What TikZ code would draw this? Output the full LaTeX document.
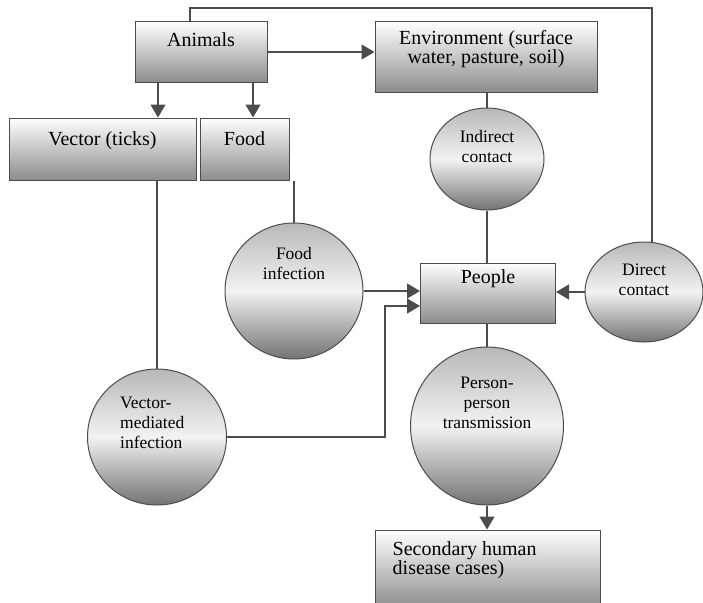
\documentclass[tikz,border=0pt]{standalone}
\usepackage{fontspec}
\setmainfont{Liberation Serif}
\usetikzlibrary{arrows.meta,shapes.geometric}

\begin{document}
\begin{tikzpicture}[x=1pt, y=-1pt,
    box/.style={draw=black!70, line width=1pt, top color=white, bottom color=black!45, inner sep=0pt},
    ball/.style={ellipse, draw=black!70, line width=1pt, top color=black!28, bottom color=black!55, middle color=black!5, inner sep=0pt},
    lbl/.style={anchor=north, inner sep=0pt, align=center, font=\fontsize{20}{18}\selectfont},
    blbl/.style={anchor=north, inner sep=0pt, align=center, font=\fontsize{17.5}{20}\selectfont},
    line/.style={draw=black!70, line width=1.3pt},
    arr/.style={line, -{Triangle[length=13pt,width=15pt]}}]

    \useasboundingbox (0,0) rectangle (703,602);

    % boxes
    \node [box, minimum width=132pt, minimum height=60pt, label={[lbl, yshift=-11pt]north:Animals}] (ani) at (201, 52) {};
    \node [box, minimum width=222pt, minimum height=70pt, label={[lbl, yshift=-9pt]north:Environment (surface\\water, pasture, soil)}] (env) at (486, 57) {};
    \node [box, minimum width=187pt, minimum height=62pt, label={[lbl, yshift=-14pt]north:Vector (ticks)}] (vec) at (102.5, 149) {};
    \node [box, minimum width=89pt, minimum height=62pt, label={[lbl, yshift=-14pt]north:Food}] (food) at (244.5, 149) {};
    \node [box, minimum width=135pt, minimum height=60pt, label={[lbl, yshift=-7pt]north:People}] (peo) at (488, 293) {};
    \node [box, minimum width=225pt, minimum height=78pt, label={[lbl, anchor=north west, align=left, xshift=18pt, yshift=-12pt]north west:Secondary human\\disease cases)}] (sec) at (487.5, 569) {};

    % circles
    \node [ball, minimum width=114pt, minimum height=102pt, label={[blbl, yshift=-23pt]north:Indirect\\contact}] (ind) at (487, 159) {};
    \node [ball, minimum width=138pt, minimum height=136pt, label={[blbl, yshift=-25pt]north:Food\\infection}] (fin) at (294, 291) {};
    \node [ball, minimum width=118pt, minimum height=100pt, label={[blbl, yshift=-22pt]north:Direct\\contact}] (dir) at (644, 292) {};
    \node [ball, minimum width=139pt, minimum height=136pt, label={[blbl, anchor=north west, align=left, xshift=-37pt, yshift=-28pt]north:Vector-\\mediated\\infection}] (vmi) at (157, 437) {};
    \node [ball, minimum width=153pt, minimum height=158pt, label={[blbl, yshift=-30pt]north:Person-\\person\\transmission}] (ppt) at (487, 426) {};

    \coordinate (top) at (652, 8);
    \coordinate (bend) at (385, 306);

    % connectors
    \draw [line] ([xshift=-11pt]ani.north) |- (top) to (top |- dir.north);
    \draw [arr] (ani.east) to (ani.east -| env.west);
    \draw [arr] ([xshift=-43pt]ani.south) to ([xshift=-43pt]ani.south |- vec.north);
    \draw [arr] ([xshift=52pt]ani.south) to ([xshift=52pt]ani.south |- food.north);
    \draw [line] (ind.north) to (ind.north |- env.south);
    \draw [line] (ind.south) to (ind.south |- peo.north);
    \draw [line] (vmi.north) to (vmi.north |- vec.south);
    \draw [line] (fin.north) to (fin.north |- food.south);
    \draw [arr] (fin.east) to (fin.east -| peo.west);
    \draw [arr] (vmi.east) -| (bend) to (bend -| peo.west);
    \draw [arr] (dir.west) to (dir.west -| peo.east);
    \draw [line] (ppt.north) to (ppt.north |- peo.south);
    \draw [arr] (ppt.south) to (ppt.south |- sec.north);

\end{tikzpicture}
\end{document}
